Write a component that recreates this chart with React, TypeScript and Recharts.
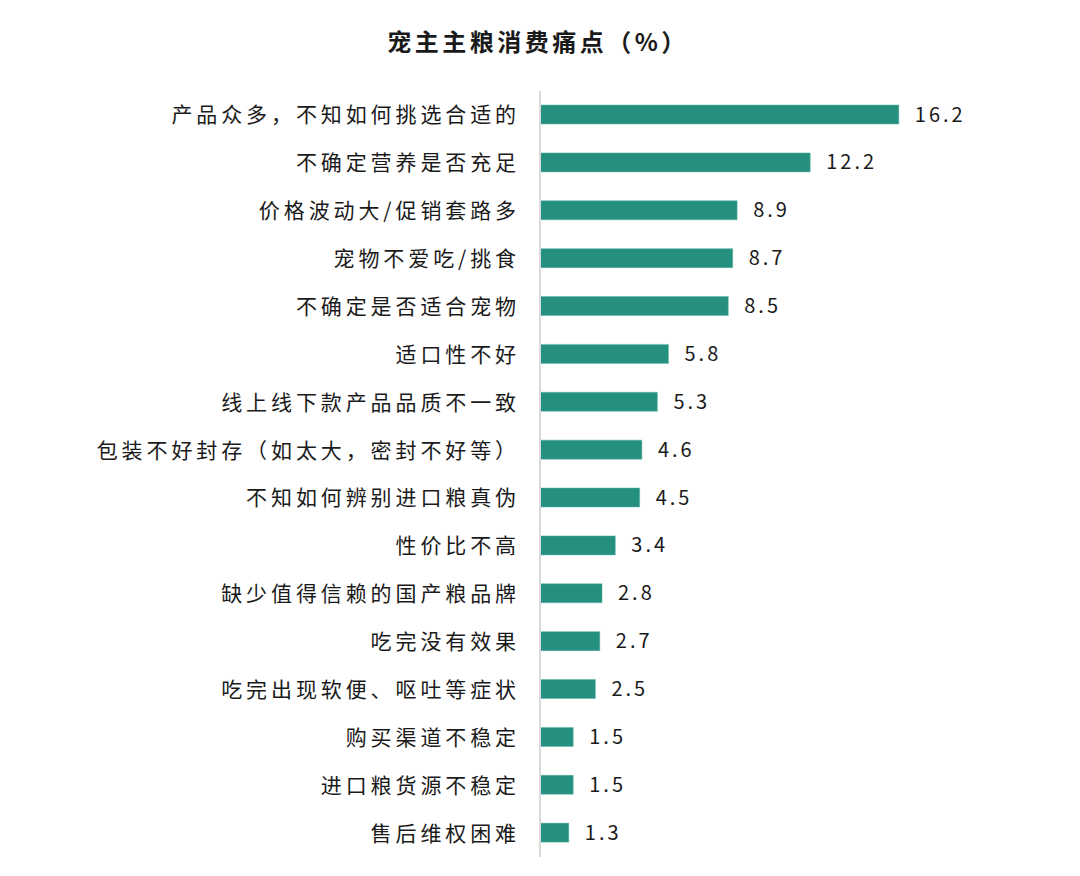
import { BarChart, Bar, XAxis, YAxis, LabelList } from 'recharts';

const categories = [
  '产品众多，不知如何挑选合适的',
  '不确定营养是否充足',
  '价格波动大/促销套路多',
  '宠物不爱吃/挑食',
  '不确定是否适合宠物',
  '适口性不好',
  '线上线下款产品品质不一致',
  '包装不好封存（如太大，密封不好等）',
  '不知如何辨别进口粮真伪',
  '性价比不高',
  '缺少值得信赖的国产粮品牌',
  '吃完没有效果',
  '吃完出现软便、呕吐等症状',
  '购买渠道不稳定',
  '进口粮货源不稳定',
  '售后维权困难',
];

const values = [16.2, 12.2, 8.9, 8.7, 8.5, 5.8, 5.3, 4.6, 4.5, 3.4, 2.8, 2.7, 2.5, 1.5, 1.5, 1.3];

const data = categories.map((name, i) => ({ name, value: values[i] }));

const font = '"Noto Sans CJK SC", "Noto Sans", sans-serif';

export default function App() {
  return (
    <div style={{ position: 'absolute', left: 0, top: 0, width: 1080, height: 876, background: '#fff', fontFamily: font }}>
      <div
        style={{
          position: 'absolute', left: 0, width: 1076, top: 24, textAlign: 'center',
          fontSize: 24, fontWeight: 700, color: '#1a1a1a', lineHeight: '34px', letterSpacing: 3.5,
        }}
      >
        宠主主粮消费痛点（%）
      </div>
      <BarChart
        data={data}
        layout="vertical"
        width={1080}
        height={876}
        margin={{ top: 91, right: 97, bottom: 19, left: 0 }}
        barSize={19}
      >
        <XAxis type="number" domain={[0, 20]} hide />
        <YAxis
          type="category"
          dataKey="name"
          width={540}
          axisLine={{ stroke: '#d9d9d9', strokeWidth: 2 }}
          tickLine={false}
          tickSize={0}
          tickMargin={20}
          interval={0}
          tick={{ fill: '#1a1a1a', fontSize: 21, fontFamily: font, letterSpacing: 3.9 }}
        />
        <Bar dataKey="value" fill="#26907f" stroke="#5fb3a6" strokeWidth={0.5} isAnimationActive={false}>
          <LabelList
            dataKey="value"
            position="right"
            offset={16}
            formatter={(v: number) => v.toFixed(1)}
            style={{ fill: '#1a1a1a', fontSize: 20, fontFamily: font, letterSpacing: 3 }}
          />
        </Bar>
      </BarChart>
    </div>
  );
}
